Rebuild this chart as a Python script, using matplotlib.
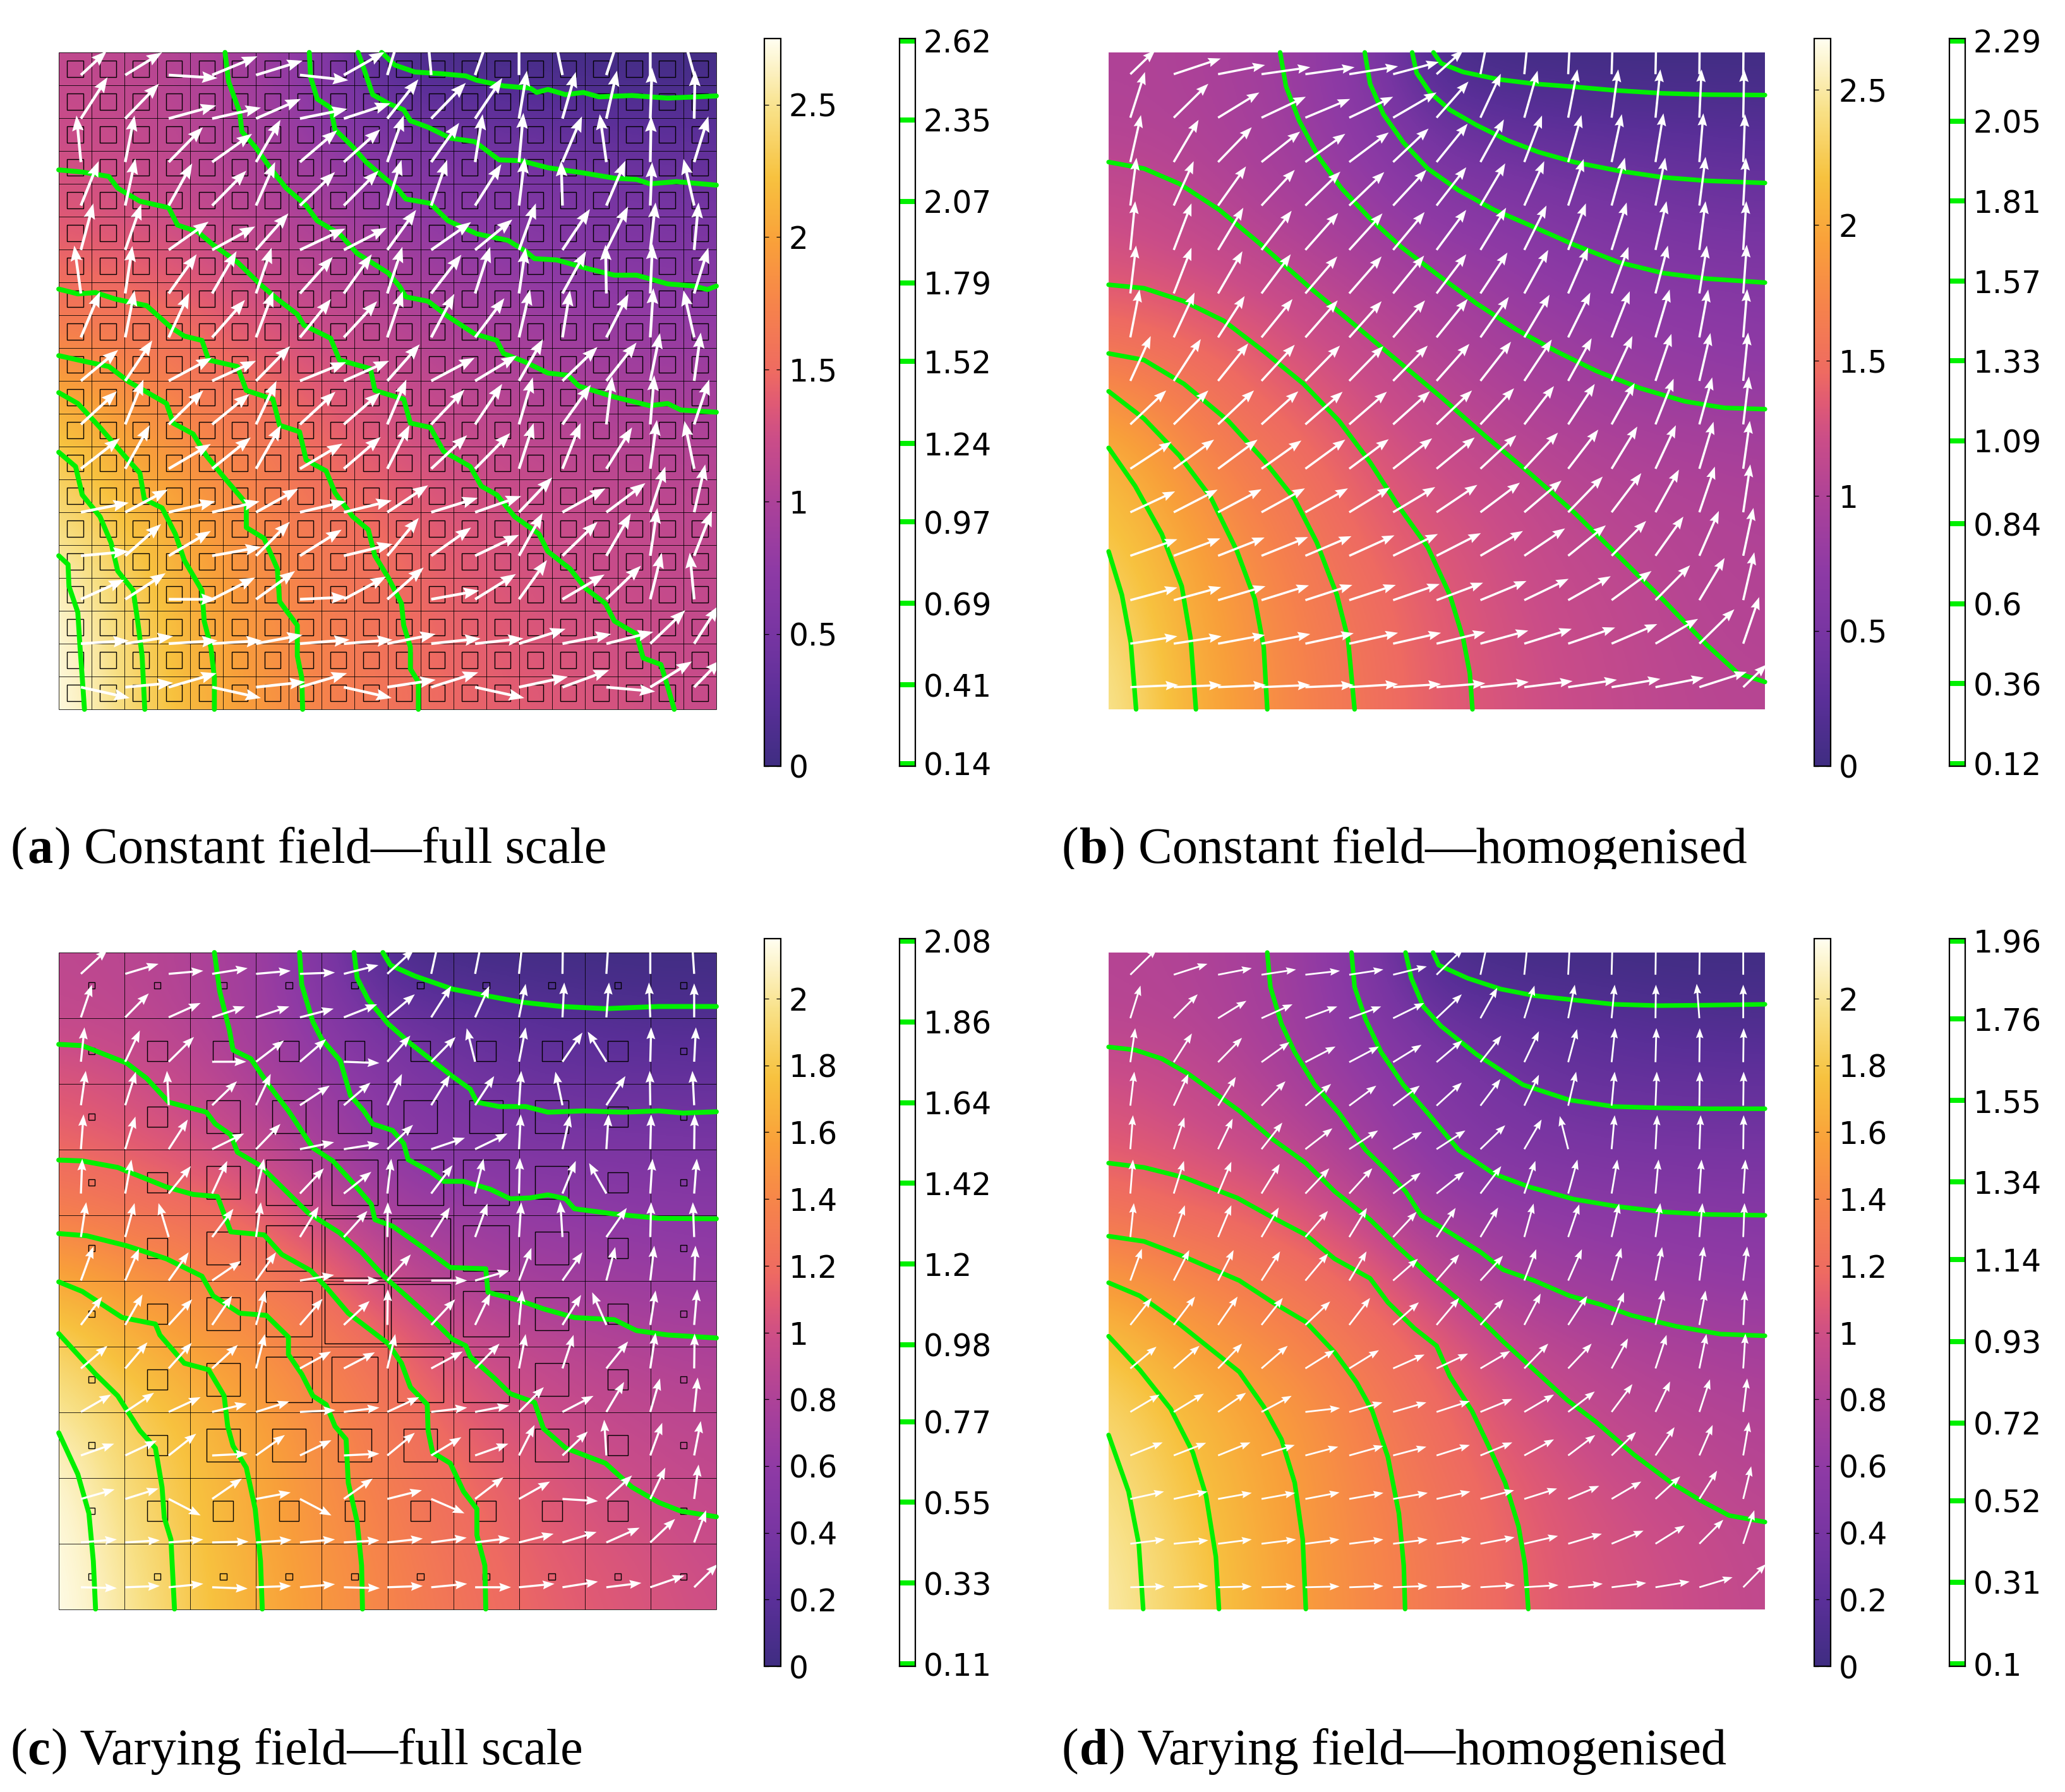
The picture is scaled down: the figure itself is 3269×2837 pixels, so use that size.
import numpy as np
import matplotlib
matplotlib.use('Agg')
import matplotlib.pyplot as plt
from matplotlib.colors import LinearSegmentedColormap, Normalize
from matplotlib.cm import ScalarMappable
from matplotlib.patches import Rectangle
from matplotlib.transforms import Bbox

W, H = 3269, 2837
GREEN = '#00f000'

# colour nodes of the shared colormap
cmap_nodes = [(0, '#3f2d82'), (.09, '#5a2f98'), (.18, '#7735a2'), (.27, '#8e3aa5'), (.36, '#ab4199'),
              (.45, '#cb4d88'), (.50, '#e05a74'), (.54, '#ee6a62'), (.63, '#f6824c'), (.72, '#f9a03a'),
              (.81, '#f7c23f'), (.90, '#f8e085'), (1, '#fffef0')]

# colour scale limits
vmax_a, vmax_b, vmax_c, vmax_d = 2.75, 2.69, 2.18, 2.18
ticks_a = [0, 0.5, 1, 1.5, 2, 2.5]
ticks_b = [0, 0.5, 1, 1.5, 2, 2.5]
ticks_c = [0, 0.2, 0.4, 0.6, 0.8, 1, 1.2, 1.4, 1.6, 1.8, 2]
ticks_d = [0, 0.2, 0.4, 0.6, 0.8, 1, 1.2, 1.4, 1.6, 1.8, 2]

# contour levels
levels_a = ['0.14', '0.41', '0.69', '0.97', '1.24', '1.52', '1.79', '2.07', '2.35', '2.62']
levels_b = ['0.12', '0.36', '0.6', '0.84', '1.09', '1.33', '1.57', '1.81', '2.05', '2.29']
levels_c = ['0.11', '0.33', '0.55', '0.77', '0.98', '1.2', '1.42', '1.64', '1.86', '2.08']
levels_d = ['0.1', '0.31', '0.52', '0.72', '0.93', '1.14', '1.34', '1.55', '1.76', '1.96']

# field values on an 11x11 grid, top row first
field_a = [
    [1.15, 1.12, 1.03, .90, .64, .12, .06, .04, .03, .02, .02],
    [1.22, 1.18, 1.08, .93, .72, .45, .36, .30, .26, .22, .20],
    [1.31, 1.23, 1.14, 1.02, .92, .71, .62, .56, .50, .44, .41],
    [1.44, 1.38, 1.28, 1.17, 1.03, .93, .79, .69, .63, .60, .57],
    [1.63, 1.58, 1.46, 1.31, 1.19, 1.07, .97, .88, .82, .78, .75],
    [2.00, 1.80, 1.63, 1.50, 1.35, 1.22, 1.12, 1.03, .96, .92, .90],
    [2.32, 2.04, 1.82, 1.67, 1.49, 1.33, 1.22, 1.15, 1.10, 1.07, 1.04],
    [2.45, 2.20, 1.98, 1.76, 1.58, 1.45, 1.34, 1.24, 1.18, 1.15, 1.12],
    [2.65, 2.35, 2.07, 1.85, 1.68, 1.52, 1.41, 1.31, 1.24, 1.19, 1.15],
    [2.72, 2.43, 2.12, 1.90, 1.72, 1.56, 1.45, 1.36, 1.30, 1.23, 1.18],
    [2.75, 2.44, 2.15, 1.93, 1.74, 1.59, 1.47, 1.39, 1.33, 1.27, 1.20]]
field_b = [
    [1.00, 1.00, .92, .80, .58, .10, .03, .02, .01, .01, .01],
    [1.02, 1.00, .95, .82, .65, .36, .28, .23, .20, .19, .17],
    [1.14, 1.09, 1.00, .90, .76, .60, .53, .47, .43, .38, .36],
    [1.26, 1.20, 1.12, 1.03, .92, .80, .74, .63, .58, .54, .52],
    [1.43, 1.38, 1.30, 1.19, 1.08, .97, .86, .79, .74, .70, .67],
    [1.74, 1.60, 1.46, 1.32, 1.20, 1.07, .99, .90, .83, .79, .76],
    [2.05, 1.81, 1.60, 1.47, 1.31, 1.19, 1.09, 1.03, .98, .95, .92],
    [2.20, 1.96, 1.74, 1.56, 1.39, 1.28, 1.20, 1.10, 1.05, 1.02, 1.00],
    [2.30, 2.06, 1.83, 1.63, 1.47, 1.34, 1.24, 1.15, 1.10, 1.04, 1.02],
    [2.42, 2.10, 1.87, 1.68, 1.52, 1.37, 1.27, 1.18, 1.12, 1.06, 1.04],
    [2.50, 2.13, 1.90, 1.70, 1.53, 1.38, 1.28, 1.20, 1.13, 1.08, 1.06]]
field_c = [
    [.90, .88, .82, .70, .46, .10, .03, .02, .01, .01, .01],
    [.92, .90, .84, .72, .53, .33, .26, .20, .16, .13, .12],
    [1.07, 1.01, .93, .79, .66, .51, .39, .32, .30, .29, .28],
    [1.17, 1.12, 1.04, .95, .75, .59, .50, .45, .43, .42, .41],
    [1.36, 1.28, 1.23, 1.13, .97, .74, .68, .63, .60, .57, .55],
    [1.63, 1.52, 1.42, 1.34, 1.20, .98, .82, .74, .70, .67, .65],
    [1.89, 1.70, 1.58, 1.46, 1.34, 1.20, 1.00, .92, .86, .82, .79],
    [2.02, 1.86, 1.72, 1.58, 1.42, 1.28, 1.14, 1.01, .94, .90, .87],
    [2.14, 1.92, 1.77, 1.62, 1.46, 1.32, 1.20, 1.11, 1.02, .96, .92],
    [2.17, 1.98, 1.80, 1.63, 1.49, 1.37, 1.23, 1.14, 1.07, 1.02, .96],
    [2.18, 2.02, 1.82, 1.66, 1.52, 1.39, 1.27, 1.17, 1.10, 1.05, .99]]
field_d = [
    [.85, .83, .77, .66, .43, .09, .03, .02, .01, .01, .01],
    [.86, .85, .79, .68, .50, .31, .24, .19, .15, .12, .11],
    [1.01, .95, .87, .74, .62, .48, .37, .30, .28, .27, .26],
    [1.10, 1.05, .98, .89, .71, .55, .47, .42, .40, .39, .39],
    [1.28, 1.20, 1.16, 1.06, .91, .70, .64, .59, .56, .54, .52],
    [1.53, 1.43, 1.33, 1.26, 1.13, .92, .77, .70, .66, .63, .61],
    [1.78, 1.60, 1.49, 1.37, 1.26, 1.13, .94, .86, .81, .77, .74],
    [1.90, 1.75, 1.62, 1.49, 1.33, 1.20, 1.07, .95, .88, .85, .82],
    [1.97, 1.80, 1.66, 1.52, 1.37, 1.24, 1.13, 1.04, .96, .90, .86],
    [2.02, 1.86, 1.69, 1.53, 1.40, 1.29, 1.16, 1.07, 1.01, .96, .90],
    [2.05, 1.88, 1.71, 1.54, 1.41, 1.29, 1.17, 1.08, 1.02, .97, .91]]

# digitised box of every panel: x0, x1, y0, y1 (arrows and contours below are in these units)
box_a = (47, 1530, 33, 1543)
box_b = (50, 1531, 33, 1543)
box_c = (47, 1530, 41, 1551)
box_d = (50, 1531, 41, 1551)

cols_a = [97, 197, 295, 393, 492, 591, 690, 788, 887, 986, 1085, 1183, 1282, 1381, 1480]
rows_a = [85, 185, 285, 385, 487, 587, 688, 788, 888, 990, 1090, 1190, 1290, 1392, 1492]
cols_b = [99, 197, 297, 395, 494, 593, 692, 790, 889, 988, 1087, 1185, 1284, 1383, 1482]
rows_b = [83, 183, 285, 385, 487, 587, 688, 788, 888, 990, 1090, 1190, 1292, 1392, 1492]
cols_c = [97, 197, 295, 393, 492, 591, 690, 788, 887, 986, 1085, 1183, 1282, 1381, 1480]
rows_c = [90, 190, 292, 392, 493, 595, 695, 795, 897, 997, 1097, 1197, 1297, 1397, 1500]
cols_d = [99, 197, 297, 395, 494, 593, 692, 790, 889, 988, 1087, 1185, 1284, 1383, 1482]
rows_d = [92, 192, 293, 393, 493, 595, 695, 795, 897, 997, 1097, 1197, 1297, 1400, 1500]

# arrow components (dx, dy up), top row first
arrows_a = [
    [(58,55),(83,52),(110,-7),(102,43),(105,33),(109,-12),(92,53),(30,100),(-9,100),(34,100),(0,100),(-20,100),(32,100),(0,100),(-27,100)],
    [(60,95),(76,80),(107,30),(110,25),(101,45),(107,22),(105,35),(70,90),(78,82),(61,93),(18,110),(30,107),(24,110),(4,117),(2,110)],
    [(-10,107),(21,107),(77,80),(90,65),(55,97),(84,73),(82,75),(37,107),(63,90),(17,110),(10,113),(44,105),(-15,110),(2,105),(32,105)],
    [(40,102),(23,108),(53,97),(77,80),(43,100),(79,77),(78,80),(32,105),(36,105),(59,95),(13,110),(-3,103),(43,103),(4,100),(-24,107)],
    [(28,107),(36,105),(90,65),(97,54),(73,84),(102,49),(97,51),(65,92),(90,64),(84,70),(38,107),(62,94),(49,100),(12,109),(10,109)],
    [(-15,110),(16,109),(63,90),(55,97),(35,105),(74,84),(63,90),(34,107),(68,89),(34,107),(15,105),(53,97),(-2,112),(5,114),(32,105)],
    [(43,105),(21,108),(46,102),(74,86),(39,106),(70,88),(75,83),(35,106),(52,100),(66,90),(25,110),(17,108),(50,100),(7,113),(-24,108)],
    [(84,71),(61,93),(97,53),(99,46),(77,80),(104,43),(102,46),(73,84),(98,53),(94,58),(54,96),(79,78),(68,88),(22,110),(15,111)],
    [(81,76),(41,103),(78,78),(84,70),(46,100),(80,75),(82,73),(43,103),(75,80),(61,93),(31,108),(64,91),(13,110),(9,113),(34,103)],
    [(88,70),(55,100),(95,57),(87,72),(56,100),(96,58),(83,73),(50,100),(81,77),(79,82),(33,105),(41,105),(58,95),(15,112),(-22,110)],
    [(108,22),(96,52),(105,25),(107,25),(95,54),(104,25),(108,27),(92,62),(105,33),(104,37),(75,80),(97,55),(88,67),(34,105),(25,110)],
    [(108,10),(81,73),(95,57),(110,20),(76,78),(94,60),(110,27),(71,87),(90,65),(99,48),(53,98),(79,78),(55,97),(16,110),(40,103)],
    [(98,45),(91,60),(108,0),(97,50),(88,65),(106,5),(95,52),(82,73),(108,20),(92,58),(63,90),(95,57),(78,77),(26,107),(-10,107)],
    [(108,7),(108,17),(110,7),(112,7),(105,20),(112,9),(110,9),(109,22),(111,12),(109,12),(105,34),(110,22),(106,27),(79,77),(55,87)],
    [(110,-25),(108,10),(108,32),(110,-25),(111,12),(106,32),(108,-25),(109,17),(106,34),(111,-25),(110,24),(105,39),(110,-10),(94,59),(60,62)]]
arrows_b = [
    [(56,55),(106,36),(106,21),(110,16),(111,16),(110,18),(103,28),(60,55),(20,100),(10,100),(5,100),(3,100),(2,100),(1,100),(1,100)],
    [(33,105),(78,78),(93,58),(100,48),(101,43),(99,48),(98,58),(72,83),(46,101),(30,108),(21,111),(15,111),(11,111),(5,111),(2,111)],
    [(24,108),(56,97),(76,80),(87,70),(90,65),(89,68),(80,77),(70,88),(53,98),(40,107),(30,108),(23,110),(18,112),(9,112),(4,110)],
    [(14,110),(45,102),(63,90),(75,82),(79,78),(79,77),(75,82),(67,88),(56,97),(45,102),(35,107),(30,110),(22,110),(14,112),(6,110)],
    [(11,112),(40,107),(57,97),(68,90),(74,85),(75,84),(71,87),(67,92),(58,97),(50,102),(40,107),(34,109),(25,112),(14,112),(7,112)],
    [(13,110),(40,105),(55,97),(66,90),(72,85),(73,85),(70,87),(67,90),(61,94),(54,100),(45,105),(38,107),(28,110),(17,110),(8,112)],
    [(21,110),(47,103),(60,95),(70,88),(73,85),(73,83),(72,85),(70,88),(64,93),(57,98),(50,103),(41,106),(32,110),(20,110),(9,111)],
    [(46,103),(61,96),(68,86),(75,83),(78,81),(77,80),(78,81),(74,85),(69,90),(62,95),(53,98),(47,103),(36,108),(25,110),(11,111)],
    [(81,78),(78,78),(81,78),(83,76),(84,75),(85,75),(83,76),(80,78),(76,83),(67,88),(60,93),(52,95),(41,105),(29,108),(13,110)],
    [(93,62),(91,67),(89,67),(90,65),(90,67),(89,68),(88,70),(86,72),(81,77),(76,83),(68,90),(58,97),(46,100),(32,108),(15,110)],
    [(101,48),(99,52),(98,53),(98,55),(96,55),(92,57),(95,58),(92,63),(89,68),(84,73),(78,82),(67,90),(53,98),(35,105),(16,110)],
    [(106,38),(105,40),(105,42),(105,43),(104,45),(102,47),(101,50),(100,52),(96,57),(92,63),(85,70),(78,80),(63,90),(44,103),(23,110)],
    [(106,29),(107,30),(107,32),(107,34),(106,35),(105,35),(105,37),(105,40),(104,44),(100,49),(96,55),(90,67),(78,80),(57,97),(25,110)],
    [(106,17),(108,17),(106,20),(110,22),(109,24),(110,25),(108,25),(110,27),(108,30),(107,34),(106,37),(103,45),(96,57),(79,79),(36,107)],
    [(108,5),(108,5),(108,5),(110,5),(109,5),(110,7),(108,7),(110,9),(109,12),(109,14),(110,17),(110,19),(109,22),(107,35),(53,52)]]
arrows_c = [
    [(60,56),(75,23),(78,7),(80,13),(78,7),(79,3),(78,20),(60,56),(17,78),(15,78),(8,78),(1,78),(5,78),(0,78),(-5,78)],
    [(25,75),(53,55),(72,33),(74,25),(75,25),(76,20),(75,30),(62,53),(45,72),(32,72),(15,77),(4,80),(6,80),(-3,80),(0,78)],
    [(8,79),(33,72),(57,57),(77,0),(63,49),(59,52),(80,-3),(52,60),(55,57),(-19,77),(15,79),(45,67),(-42,69),(2,79),(4,79)],
    [(11,79),(24,77),(-4,79),(56,55),(33,72),(67,45),(60,52),(33,72),(42,69),(43,67),(5,79),(-16,77),(43,67),(-1,79),(-4,79)],
    [(6,80),(23,75),(43,68),(72,36),(55,58),(77,16),(80,13),(58,56),(76,26),(73,36),(4,80),(17,78),(5,80),(2,80),(1,80)],
    [(3,80),(14,78),(50,63),(34,75),(18,80),(54,58),(62,50),(9,80),(48,65),(19,80),(2,82),(30,75),(-39,70),(5,80),(6,80)],
    [(12,80),(21,78),(-23,78),(48,65),(11,80),(42,70),(53,60),(1,80),(42,68),(28,77),(5,80),(-5,82),(46,67),(2,80),(-3,80)],
    [(28,78),(31,73),(45,65),(65,45),(45,65),(77,13),(80,0),(53,60),(81,0),(77,23),(28,75),(45,65),(20,77),(9,80),(3,80)],
    [(48,65),(39,70),(53,59),(45,67),(21,79),(51,60),(58,55),(1,82),(54,59),(34,72),(7,80),(42,69),(-32,75),(12,79),(7,82)],
    [(60,52),(50,60),(52,59),(58,54),(20,79),(70,39),(70,37),(18,79),(71,39),(55,57),(15,79),(25,77),(49,62),(12,82),(1,80)],
    [(68,40),(65,44),(72,34),(78,19),(75,24),(80,4),(80,10),(72,34),(81,10),(77,15),(56,57),(70,37),(40,69),(22,77),(8,79)],
    [(75,27),(71,34),(62,50),(80,4),(65,47),(71,35),(80,4),(62,52),(68,42),(75,27),(35,70),(57,55),(-5,82),(27,75),(15,79)],
    [(76,22),(75,24),(72,-38),(67,47),(78,15),(71,-38),(65,47),(78,20),(75,-33),(64,50),(70,40),(80,-5),(58,54),(34,72),(10,79)],
    [(81,7),(78,5),(78,7),(82,2),(80,6),(79,7),(80,5),(80,9),(80,11),(79,10),(78,20),(77,24),(75,34),(56,54),(27,74)],
    [(81,-2),(78,3),(78,8),(80,-3),(79,3),(79,7),(81,-2),(80,3),(81,8),(81,0),(80,8),(80,13),(79,10),(77,27),(53,53)]]
arrows_d = [
    [(60,60),(76,25),(76,15),(78,12),(78,9),(77,12),(76,19),(60,60),(16,75),(8,78),(4,78),(2,78),(1,78),(1,78),(0,78)],
    [(23,75),(54,55),(64,40),(70,32),(72,27),(72,27),(70,35),(57,55),(38,70),(23,75),(15,77),(7,77),(1,77),(-6,79),(0,77)],
    [(11,78),(41,66),(54,56),(63,46),(68,36),(67,36),(64,40),(58,50),(47,61),(33,71),(20,76),(8,78),(2,78),(1,78),(1,78)],
    [(9,78),(33,73),(40,66),(54,56),(58,50),(61,46),(60,46),(57,53),(45,61),(33,71),(18,78),(7,78),(3,78),(1,78),(1,78)],
    [(6,78),(24,73),(33,70),(47,61),(61,48),(65,43),(65,40),(65,43),(56,55),(39,68),(-19,76),(7,78),(4,78),(3,78),(1,78)],
    [(6,78),(23,75),(30,73),(41,68),(54,58),(52,58),(62,48),(62,50),(47,63),(25,75),(21,78),(13,78),(7,78),(5,78),(5,78)],
    [(8,78),(25,73),(30,73),(39,68),(51,60),(40,67),(53,58),(43,67),(40,68),(21,77),(25,75),(17,77),(11,78),(7,78),(3,78)],
    [(26,73),(35,70),(35,70),(42,67),(51,62),(39,67),(56,50),(51,60),(51,57),(27,72),(31,72),(22,75),(15,77),(10,78),(9,78)],
    [(48,62),(48,65),(44,65),(48,62),(56,54),(47,62),(58,52),(51,62),(52,59),(37,72),(43,67),(28,75),(19,79),(14,79),(4,79)],
    [(59,50),(58,52),(54,57),(59,52),(66,42),(67,42),(71,32),(71,34),(67,40),(54,57),(53,57),(37,69),(25,77),(16,79),(5,80)],
    [(66,40),(68,42),(63,44),(68,37),(78,9),(75,22),(75,22),(75,25),(72,30),(67,40),(60,47),(47,64),(33,70),(24,75),(9,77)],
    [(73,30),(73,29),(73,30),(75,24),(74,20),(77,22),(75,20),(75,24),(72,30),(67,37),(61,47),(55,54),(43,65),(30,70),(13,77)],
    [(76,17),(76,17),(76,14),(76,14),(77,15),(77,14),(78,14),(76,17),(76,20),(74,24),(70,30),(67,40),(56,52),(40,65),(18,75)],
    [(78,10),(78,8),(76,10),(78,10),(77,10),(77,10),(78,10),(78,12),(77,15),(76,18),(76,23),(72,30),(66,42),(54,55),(25,77)],
    [(78,2),(78,3),(76,2),(77,2),(77,2),(77,3),(78,3),(78,3),(78,5),(77,5),(78,8),(78,10),(77,13),(75,23),(51,53)]]

# traced contour lines, lowest level first
contours_a = [
    [(775,33),(805,62),(850,78),(910,82),(965,87),(990,97),(1050,110),(1110,115),(1125,125),(1150,118),(1190,130),(1230,125),(1265,135),(1340,132),(1420,138),(1530,133)],
    [(722,33),(735,70),(755,130),(790,150),(825,165),(840,190),(880,205),(930,230),(985,238),(1040,280),(1090,282),(1150,298),(1230,310),(1300,322),(1350,325),(1380,335),(1440,330),(1530,338)],
    [(612,33),(615,90),(630,140),(660,160),(670,210),(710,250),(740,285),(780,320),(810,345),(830,370),(885,380),(925,420),(990,450),(1060,465),(1100,490),(1120,507),(1170,510),(1240,530),(1300,545),(1350,545),(1420,565),(1480,570),(1510,578),(1530,570)],
    [(422,33),(430,100),(455,170),(460,215),(490,250),(525,300),(560,345),(605,385),(630,420),(680,450),(720,495),(790,540),(815,570),(830,595),(880,605),(925,640),(985,680),(1035,695),(1050,725),(1100,745),(1150,770),(1195,775),(1220,800),(1300,825),(1380,845),(1420,840),(1450,855),(1530,860)],
    [(47,303),(100,308),(160,318),(180,345),(230,375),(295,390),(315,430),(360,445),(395,475),(450,515),(500,565),(540,600),(585,635),(600,660),(660,690),(680,740),(750,760),(760,810),(825,830),(840,885),(885,895),(915,950),(975,985),(1000,1030),(1035,1050),(1075,1100),(1130,1140),(1150,1180),(1200,1220),(1235,1265),(1280,1300),(1300,1340),(1350,1370),(1365,1425),(1405,1440),(1420,1490),(1435,1543)],
    [(47,577),(90,588),(130,585),(175,600),(245,615),(300,665),(330,685),(370,695),(385,740),(450,755),(470,810),(530,830),(545,890),(590,905),(605,970),(650,995),(670,1045),(710,1100),(745,1130),(760,1190),(790,1240),(820,1300),(825,1350),(840,1400),(840,1450),(858,1480),(858,1543)],
    [(47,730),(100,742),(160,755),(205,790),(290,840),(305,885),(350,910),(380,960),(420,1010),(470,1070),(470,1125),(510,1150),(540,1220),(545,1295),(585,1350),(585,1420),(595,1470),(597,1543)],
    [(47,815),(90,840),(140,895),(195,960),(230,1000),(240,1060),(280,1080),(310,1140),(330,1200),(370,1270),(375,1340),(390,1400),(398,1470),(398,1543)],
    [(47,952),(85,985),(100,1050),(140,1100),(165,1160),(180,1225),(215,1270),(225,1340),(235,1420),(241,1543)],
    [(47,1190),(68,1210),(70,1260),(90,1320),(95,1400),(100,1470),(105,1543)]]
contours_b = [
    [(783,33),(800,58),(850,78),(930,95),(1010,105),(1100,112),(1190,120),(1300,127),(1400,130),(1531,131)],
    [(735,33),(745,80),(775,125),(820,165),(880,200),(950,235),(1020,262),(1100,285),(1200,305),(1300,320),(1400,328),(1531,333)],
    [(628,33),(640,105),(670,175),(715,240),(770,300),(840,350),(920,395),(1000,430),(1100,475),(1200,515),(1300,540),(1400,553),(1531,562)],
    [(437,33),(450,110),(480,190),(525,275),(575,345),(640,415),(710,480),(800,550),(880,610),(970,670),(1060,720),(1150,765),(1250,805),(1350,835),(1440,850),(1531,853)],
    [(50,285),(130,300),(210,335),(300,395),(400,480),(500,570),(600,655),(700,740),(800,825),(900,915),(1000,1000),(1100,1090),(1200,1190),(1300,1290),(1400,1395),(1470,1460),(1531,1480)],
    [(50,567),(130,575),(220,605),(310,650),(400,720),(490,795),(570,880),(640,975),(700,1070),(770,1170),(820,1280),(850,1380),(865,1460),(871,1543)],
    [(50,725),(130,740),(220,795),(320,880),(400,970),(470,1060),(520,1160),(565,1280),(590,1380),(605,1543)],
    [(50,812),(130,875),(210,960),(280,1055),(340,1180),(380,1290),(400,1400),(408,1543)],
    [(50,942),(110,1030),(170,1140),(215,1260),(235,1380),(247,1543)],
    [(50,1180),(80,1280),(100,1390),(112,1543)]]
contours_c = [
    [(778,41),(795,70),(850,95),(935,125),(1010,140),(1090,155),(1180,165),(1280,170),(1400,165),(1530,165)],
    [(713,41),(720,100),(745,150),(790,205),(840,250),(890,290),(930,322),(975,355),(990,385),(1040,395),(1100,395),(1150,408),(1230,405),(1320,408),(1400,405),(1455,410),(1530,407)],
    [(590,41),(595,115),(620,200),(640,240),(682,290),(705,370),(735,405),(755,435),(800,450),(825,480),(835,517),(885,545),(915,567),(960,567),(1020,585),(1065,607),(1110,605),(1150,598),(1190,607),(1210,630),(1300,642),(1400,652),(1530,653)],
    [(398,41),(410,130),(432,220),(440,265),(480,285),(520,345),(565,405),(620,490),(665,520),(710,570),(752,620),(760,655),(800,670),(870,720),(930,765),(1010,768),(1015,822),(1090,842),(1140,860),(1210,880),(1300,885),(1350,910),(1420,920),(1530,927)],
    [(47,252),(100,255),(200,295),(245,330),(295,385),(380,408),(400,435),(435,460),(450,500),(500,530),(550,580),(610,640),(680,685),(730,730),(780,785),(830,830),(890,885),(935,930),(965,945),(975,970),(1030,1020),(1065,1055),(1120,1075),(1140,1135),(1190,1180),(1280,1215),(1340,1270),(1400,1305),(1450,1325),(1530,1338)],
    [(47,518),(100,520),(180,535),(290,580),(350,597),(405,602),(435,683),(510,690),(550,735),(615,772),(650,810),(700,870),(790,940),(820,985),(840,1040),(878,1080),(880,1140),(890,1190),(930,1215),(960,1280),(990,1320),(990,1380),(1008,1450),(1010,1550)],
    [(47,687),(110,692),(200,715),(290,745),(370,785),(395,830),(455,870),(515,875),(565,925),(565,965),(595,1010),(620,1060),(650,1080),(670,1130),(695,1160),(700,1260),(720,1350),(730,1450),(732,1550)],
    [(47,798),(100,820),(190,880),(265,895),(275,920),(330,985),(385,1000),(420,1060),(428,1130),(440,1175),(470,1225),(490,1320),(502,1440),(506,1550)],
    [(47,917),(130,1010),(180,1060),(230,1140),(265,1180),(280,1270),(285,1340),(300,1390),(308,1550)],
    [(47,1145),(90,1240),(115,1330),(125,1440),(130,1550)]]
contours_d = [
    [(782,41),(795,70),(860,100),(935,125),(1010,140),(1100,150),(1190,160),(1290,163),(1400,162),(1531,160)],
    [(720,41),(733,100),(760,165),(800,210),(880,275),(985,345),(1090,380),(1190,395),(1290,398),(1400,400),(1531,400)],
    [(598,41),(605,120),(630,195),(665,270),(715,345),(770,410),(840,495),(920,550),(1000,580),(1100,608),(1200,625),(1300,637),(1400,643),(1531,645)],
    [(408,41),(415,120),(440,205),(470,270),(515,345),(570,410),(630,495),(680,545),(720,590),(755,645),(820,685),(890,730),(940,770),(1010,795),(1090,830),(1160,850),(1230,875),(1330,900),(1430,918),(1531,922)],
    [(50,258),(110,265),(170,285),(230,320),(345,405),(420,470),(495,525),(560,590),(640,655),(700,715),(770,780),(835,835),(890,885),(940,935),(1010,1000),(1085,1070),(1150,1120),(1235,1195),(1320,1260),(1385,1300),(1450,1335),(1531,1350)],
    [(50,525),(130,535),(220,558),(340,605),(420,650),(495,690),(560,745),(640,790),(680,845),(740,905),(790,945),(820,1015),(870,1095),(905,1170),(945,1260),(975,1360),(990,1450),(997,1550)],
    [(50,693),(130,705),(220,740),(345,795),(420,845),(495,890),(560,960),(610,1030),(645,1095),(680,1200),(705,1330),(716,1450),(719,1550)],
    [(50,800),(120,830),(210,895),(345,1005),(400,1085),(440,1160),(470,1260),(488,1390),(495,1550)],
    [(50,923),(120,1000),(190,1090),(240,1190),(270,1290),(292,1430),(299,1550)],
    [(50,1150),(95,1280),(118,1400),(128,1550)]]

# inner square widths per cell, top row first (digitised units)
squares_a = [[36] * 20 for _ in range(20)]
squares_c = [
    [15, 15, 15, 15, 15, 15, 15, 15, 15, 15],
    [15, 45, 45, 45, 45, 45, 45, 45, 45, 15],
    [15, 45, 75, 75, 75, 75, 75, 75, 45, 15],
    [15, 45, 75, 104, 104, 104, 104, 75, 45, 15],
    [15, 45, 75, 104, 134, 134, 104, 75, 45, 15],
    [15, 45, 75, 104, 134, 134, 104, 75, 45, 15],
    [15, 45, 75, 104, 104, 104, 104, 75, 45, 15],
    [15, 45, 75, 75, 75, 75, 75, 75, 45, 15],
    [15, 45, 45, 45, 45, 45, 45, 45, 45, 15],
    [15, 15, 15, 15, 15, 15, 15, 15, 15, 15]]


def px_axes(fig, x0, y0, x1, y1):
    # axes from picture pixel corners, y measured downwards
    return fig.add_axes([x0 / W, 1 - y1 / H, (x1 - x0) / W, (y1 - y0) / H])


def draw_cells(ax, squares, box):
    n = len(squares)
    edges = np.linspace(0, 1, n + 1)
    ax.vlines(edges, 0, 1, colors='black', lw=0.7, alpha=0.85, zorder=2, clip_on=False)
    ax.hlines(edges, 0, 1, colors='black', lw=0.7, alpha=0.85, zorder=2, clip_on=False)
    scale = box[1] - box[0]
    for r, row in enumerate(squares):
        for c, size in enumerate(row):
            s = size / scale
            xc = edges[c] + 0.5 / n
            yc = 1 - edges[r] - 0.5 / n
            ax.add_patch(Rectangle((xc - s / 2, yc - s / 2), s, s, fc='none', ec='black', lw=1.0, zorder=3))


def draw_panel(fig, rect, field, vmax, box, cols, rows, arrows, contours, squares, width, lw):
    ax = px_axes(fig, *rect)

    x0, x1, y0, y1 = box
    w, h = x1 - x0, y1 - y0
    # grid nodes sit on pixel centres, so the image reaches half a step past the panel
    ax.imshow(np.array(field), extent=(-0.05, 1.05, -0.05, 1.05), origin='upper', aspect='auto',
              interpolation='bicubic', cmap=cmap, norm=Normalize(0, vmax), zorder=1)
    ax.set_xlim(0, 1)
    ax.set_ylim(0, 1)
    ax.axis('off')

    if squares is not None:
        draw_cells(ax, squares, box)

    for line in contours:
        pts = np.array(line, dtype=float)
        ax.plot((pts[:, 0] - x0) / w, 1 - (pts[:, 1] - y0) / h, color=GREEN, lw=lw,
                solid_capstyle='round', solid_joinstyle='round', clip_on=False, zorder=4)

    arr = np.array(arrows, dtype=float)
    X, Y = np.meshgrid((np.array(cols) - x0) / w, 1 - (np.array(rows) - y0) / h)
    ax.quiver(X, Y, arr[:, :, 0] / w, arr[:, :, 1] / h, angles='xy', scale_units='xy', scale=1,
              units='xy', width=width, headwidth=4.2, headlength=5.6, headaxislength=5.0,
              color='white', pivot='tail', zorder=5)
    return ax


def draw_colorbars(fig, rect, vmax, ticks, levels):
    px0, py0, _, py1 = rect
    top, bottom = py0 - 22, py1 + 90
    cax = px_axes(fig, px0 + 1117, top, px0 + 1143, bottom)
    cb = fig.colorbar(ScalarMappable(Normalize(0, vmax), cmap), cax=cax)
    cb.set_ticks(ticks)
    cb.set_ticklabels([str(t) for t in ticks])
    cb.outline.set_linewidth(1.6)
    cax.tick_params(axis='y', direction='in', left=True, right=True, length=5, width=0.9,
                    labelsize=35, pad=9)

    lax = px_axes(fig, px0 + 1331, top, px0 + 1356, bottom)
    vals = [float(v) for v in levels]
    margin = (vals[-1] - vals[0]) * 4 / 1144
    lax.set_xlim(0, 1)
    lax.set_ylim(vals[0] - margin, vals[-1] + margin)
    lax.hlines(vals, 0, 1, colors=GREEN, lw=5.8)
    lax.set_xticks([])
    lax.yaxis.tick_right()
    lax.set_yticks(vals)
    lax.set_yticklabels(levels)
    lax.tick_params(axis='y', direction='in', left=True, right=True, length=5, width=0.9,
                    labelsize=35, pad=9)
    for s in lax.spines.values():
        s.set_linewidth(1.6)


def caption(fig, x, baseline, letter, rest, clip_y=None):
    # bold letter between plain brackets, placed piece by piece
    renderer = fig.canvas.get_renderer()
    pieces = [('(', 'normal'), (letter, 'bold'), (')', 'normal'), (' ' + rest, 'normal')]
    for txt, weight in pieces:
        t = fig.text(x / W, 1 - baseline / H, txt, family='Liberation Serif', fontsize=CAPTION_SIZE,
                     fontweight=weight, ha='left', va='baseline', color='black')
        if clip_y is not None:
            t.set_clip_box(Bbox([[0, H - clip_y], [W, H]]))
            t.set_clip_on(True)
        if txt.startswith(' '):
            break
        x += t.get_window_extent(renderer).width + 1


CAPTION_SIZE = 58
cmap = LinearSegmentedColormap.from_list('field', cmap_nodes, N=512)

fig = plt.figure(figsize=(W / 100, H / 100), dpi=100, facecolor='white')

rect_a = (93, 83, 1134, 1123)
rect_b = (1755, 83, 2794, 1123)
rect_c = (93, 1508, 1134, 2548)
rect_d = (1755, 1508, 2794, 2548)

draw_panel(fig, rect_a, field_a, vmax_a, box_a, cols_a, rows_a, arrows_a, contours_a, squares_a, 0.0042, 5.6)
draw_panel(fig, rect_b, field_b, vmax_b, box_b, cols_b, rows_b, arrows_b, contours_b, None, 0.0034, 5.2)
draw_panel(fig, rect_c, field_c, vmax_c, box_c, cols_c, rows_c, arrows_c, contours_c, squares_c, 0.0032, 5.6)
draw_panel(fig, rect_d, field_d, vmax_d, box_d, cols_d, rows_d, arrows_d, contours_d, None, 0.0027, 5.2)

draw_colorbars(fig, rect_a, vmax_a, ticks_a, levels_a)
draw_colorbars(fig, rect_b, vmax_b, ticks_b, levels_b)
draw_colorbars(fig, rect_c, vmax_c, ticks_c, levels_c)
draw_colorbars(fig, rect_d, vmax_d, ticks_d, levels_d)

caption(fig, 16, 1366, 'a', 'Constant field\u2014full scale', clip_y=1376)
caption(fig, 1681, 1366, 'b', 'Constant field\u2014homogenised', clip_y=1376)
caption(fig, 16, 2793, 'c', 'Varying field\u2014full scale')
caption(fig, 1681, 2793, 'd', 'Varying field\u2014homogenised')

fig.savefig('out.png', dpi=100, facecolor='white')
